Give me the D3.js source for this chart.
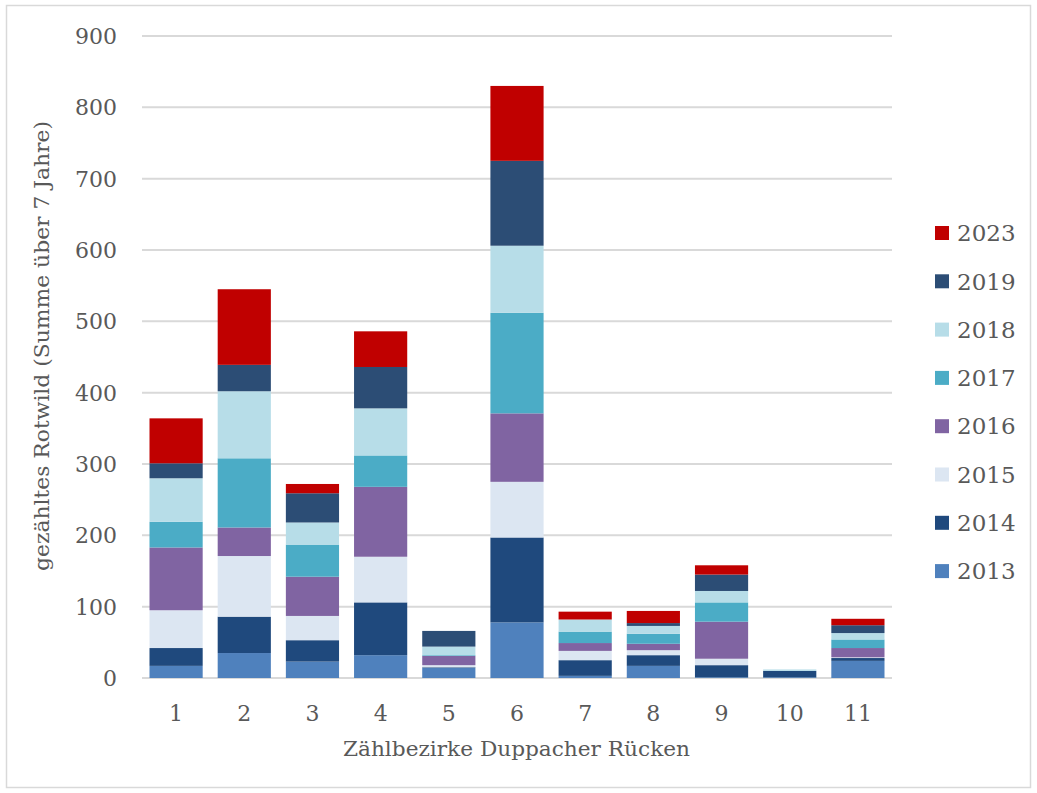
<!DOCTYPE html>
<html>
<head>
<meta charset="utf-8">
<script src="https://cdn.jsdelivr.net/npm/d3@7"></script>
<style>
  html, body { margin: 0; padding: 0; background: #fff; }
  svg { display: block; }
</style>
</head>
<body>
<svg id="chart" width="1037" height="793"></svg>
<script>
// Counting districts (x categories)
const districts = ["1", "2", "3", "4", "5", "6", "7", "8", "9", "10", "11"];

// Counted red deer per district and year
const y2013 = [17, 35, 23, 32, 14, 78, 3, 17, 1, 1, 24];
const y2014 = [25, 51, 30, 74, 1, 119, 22, 15, 17, 9, 4];
const y2015 = [53, 85, 34, 64, 3, 78, 13, 7, 9, 0, 1];
const y2016 = [88, 40, 55, 98, 13, 96, 11, 9, 52, 0, 13];
const y2017 = [36, 97, 45, 44, 1, 141, 16, 14, 27, 0, 12];
const y2018 = [61, 94, 31, 66, 12, 94, 17, 11, 16, 2, 9];
const y2019 = [21, 37, 41, 58, 22, 119, 0, 4, 23, 0, 11];
const y2023 = [63, 106, 13, 50, 0, 105, 11, 17, 13, 0, 9];

const years = ["2013", "2014", "2015", "2016", "2017", "2018", "2019", "2023"];
const seriesValues = [y2013, y2014, y2015, y2016, y2017, y2018, y2019, y2023];
const colors = ["#4F81BD", "#1F497D", "#DCE6F2", "#8064A2", "#4BACC6", "#B7DDE8", "#2C4D75", "#C00000"];

const yTicks = [0, 100, 200, 300, 400, 500, 600, 700, 800, 900];

const svg = d3.select("#chart");
const W = 1037, H = 793;

// Outer chart frame
svg.append("rect")
  .attr("x", 6.5).attr("y", 5.5)
  .attr("width", W - 13).attr("height", H - 11)
  .attr("fill", "#fff").attr("stroke", "#d9d9d9").attr("stroke-width", 1.5);

const plot = { left: 142, right: 892, top: 36, bottom: 678 };

const x = d3.scaleBand()
  .domain(districts)
  .range([plot.left, plot.right])
  .paddingInner(0.22)
  .paddingOuter(0.11);

const y = d3.scaleLinear()
  .domain([0, 900])
  .range([plot.bottom, plot.top]);

// Gridlines
svg.append("g")
  .selectAll("line")
  .data(yTicks)
  .join("line")
  .attr("x1", plot.left).attr("x2", plot.right)
  .attr("y1", d => y(d)).attr("y2", d => y(d))
  .attr("stroke", "#d9d9d9").attr("stroke-width", 2);

// Y tick labels
svg.append("g")
  .selectAll("text")
  .data(yTicks)
  .join("text")
  .attr("x", 117)
  .attr("y", d => y(d))
  .attr("dy", "0.36em")
  .attr("text-anchor", "end")
  .attr("font-family", "DejaVu Serif")
  .attr("font-size", 22)
  .attr("fill", "#595959")
  .text(d => d);

// Stacked bars
const table = districts.map((d, i) => {
  const row = { district: d };
  years.forEach((yr, k) => { row[yr] = seriesValues[k][i]; });
  return row;
});
const stacked = d3.stack().keys(years)(table);

svg.append("g")
  .selectAll("g")
  .data(stacked)
  .join("g")
  .attr("fill", (d, i) => colors[i])
  .selectAll("rect")
  .data(d => d)
  .join("rect")
  .attr("x", d => x(d.data.district))
  .attr("width", x.bandwidth())
  .attr("y", d => y(d[1]))
  .attr("height", d => y(d[0]) - y(d[1]));

// X tick labels
svg.append("g")
  .selectAll("text")
  .data(districts)
  .join("text")
  .attr("x", d => x(d) + x.bandwidth() / 2)
  .attr("y", 721)
  .attr("text-anchor", "middle")
  .attr("font-family", "DejaVu Serif")
  .attr("font-size", 22)
  .attr("fill", "#595959")
  .text(d => d);

// Axis titles
svg.append("text")
  .attr("x", 343)
  .attr("y", 756)
  .attr("font-family", "DejaVu Serif")
  .attr("font-size", 21)
  .attr("fill", "#595959")
  .attr("textLength", 347)
  .attr("lengthAdjust", "spacingAndGlyphs")
  .text("Zählbezirke Duppacher Rücken");

svg.append("text")
  .attr("transform", "translate(49,571) rotate(-90)")
  .attr("x", 0).attr("y", 0)
  .attr("font-family", "DejaVu Serif")
  .attr("font-size", 21)
  .attr("fill", "#595959")
  .attr("textLength", 450)
  .attr("lengthAdjust", "spacingAndGlyphs")
  .text("gezähltes Rotwild (Summe über 7 Jahre)");

// Legend (newest year on top)
const legendOrder = years.map((yr, i) => ({ yr, color: colors[i] })).reverse();
const legend = svg.append("g")
  .selectAll("g")
  .data(legendOrder)
  .join("g")
  .attr("transform", (d, i) => `translate(935,${233 + i * 48.3})`);

legend.append("rect")
  .attr("x", 0).attr("y", -7)
  .attr("width", 14).attr("height", 14)
  .attr("fill", d => d.color);

legend.append("text")
  .attr("x", 22)
  .attr("y", 0)
  .attr("dy", "0.36em")
  .attr("font-family", "DejaVu Serif")
  .attr("font-size", 23)
  .attr("fill", "#595959")
  .text(d => d.yr);
</script>
</body>
</html>
